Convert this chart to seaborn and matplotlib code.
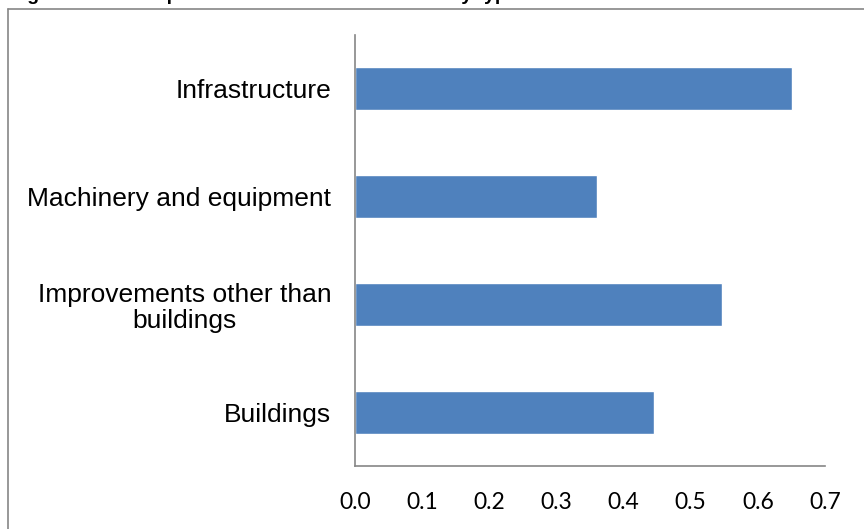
import matplotlib
matplotlib.use("Agg")
import matplotlib.pyplot as plt
from matplotlib.lines import Line2D
from matplotlib.ticker import FormatStrFormatter
import seaborn as sns
import pandas as pd

# Depreciation rates by asset type
categories = [
    "Infrastructure",
    "Machinery and equipment",
    "Improvements other than\nbuildings",
    "Buildings",
]
rates = [0.651, 0.360, 0.547, 0.445]
x_ticks = [0.0, 0.1, 0.2, 0.3, 0.4, 0.5, 0.6, 0.7]
title = "Figure 3: Real depreciation rates of investment by type of asset"

df = pd.DataFrame({"category": categories, "rate": rates})

sns.set_theme(style="white")
plt.rcParams["font.family"] = ["Liberation Sans", "DejaVu Sans"]

W, H = 864, 529
fig = plt.figure(figsize=(W / 100, H / 100), dpi=100)
ax = fig.add_axes([355 / W, 1 - 466 / H, (825 - 355) / W, (466 - 35) / H])

sns.barplot(data=df, x="rate", y="category", orient="h", color="#4F81BD",
            width=0.4, saturation=1, ax=ax)

ax.set_xlim(0, 0.7)
ax.set_ylim(3.5, -0.5)
ax.set_xticks(x_ticks)
ax.xaxis.set_major_formatter(FormatStrFormatter("%.1f"))
ax.set_xlabel("")
ax.set_ylabel("")

axis_grey = "#868686"
for side in ("top", "right"):
    ax.spines[side].set_visible(False)
for side in ("left", "bottom"):
    ax.spines[side].set_color(axis_grey)
    ax.spines[side].set_linewidth(1.2)

ax.tick_params(axis="x", length=0, pad=19, labelsize=16.5, colors="black")
ax.tick_params(axis="y", length=0, pad=17, labelsize=19, colors="black")
for lbl in ax.get_xticklabels():
    lbl.set_fontfamily(["Lato", "DejaVu Sans"])
for lbl in ax.get_yticklabels():
    lbl.set_multialignment("center")
    lbl.set_linespacing(1.1)

# chart frame (left and top edges)
fig.add_artist(Line2D([8 / W, 8 / W], [0, 1 - 9 / H], transform=fig.transFigure,
                      color=axis_grey, linewidth=1.2))
fig.add_artist(Line2D([8 / W, 1], [1 - 9 / H, 1 - 9 / H], transform=fig.transFigure,
                      color=axis_grey, linewidth=1.2))

# heading sitting above the frame
fig.text(10 / W, 1 - 0.5 / H, title, fontsize=14, fontweight="bold",
         va="baseline", ha="left", color="black")

fig.savefig("out.png", dpi=100)
